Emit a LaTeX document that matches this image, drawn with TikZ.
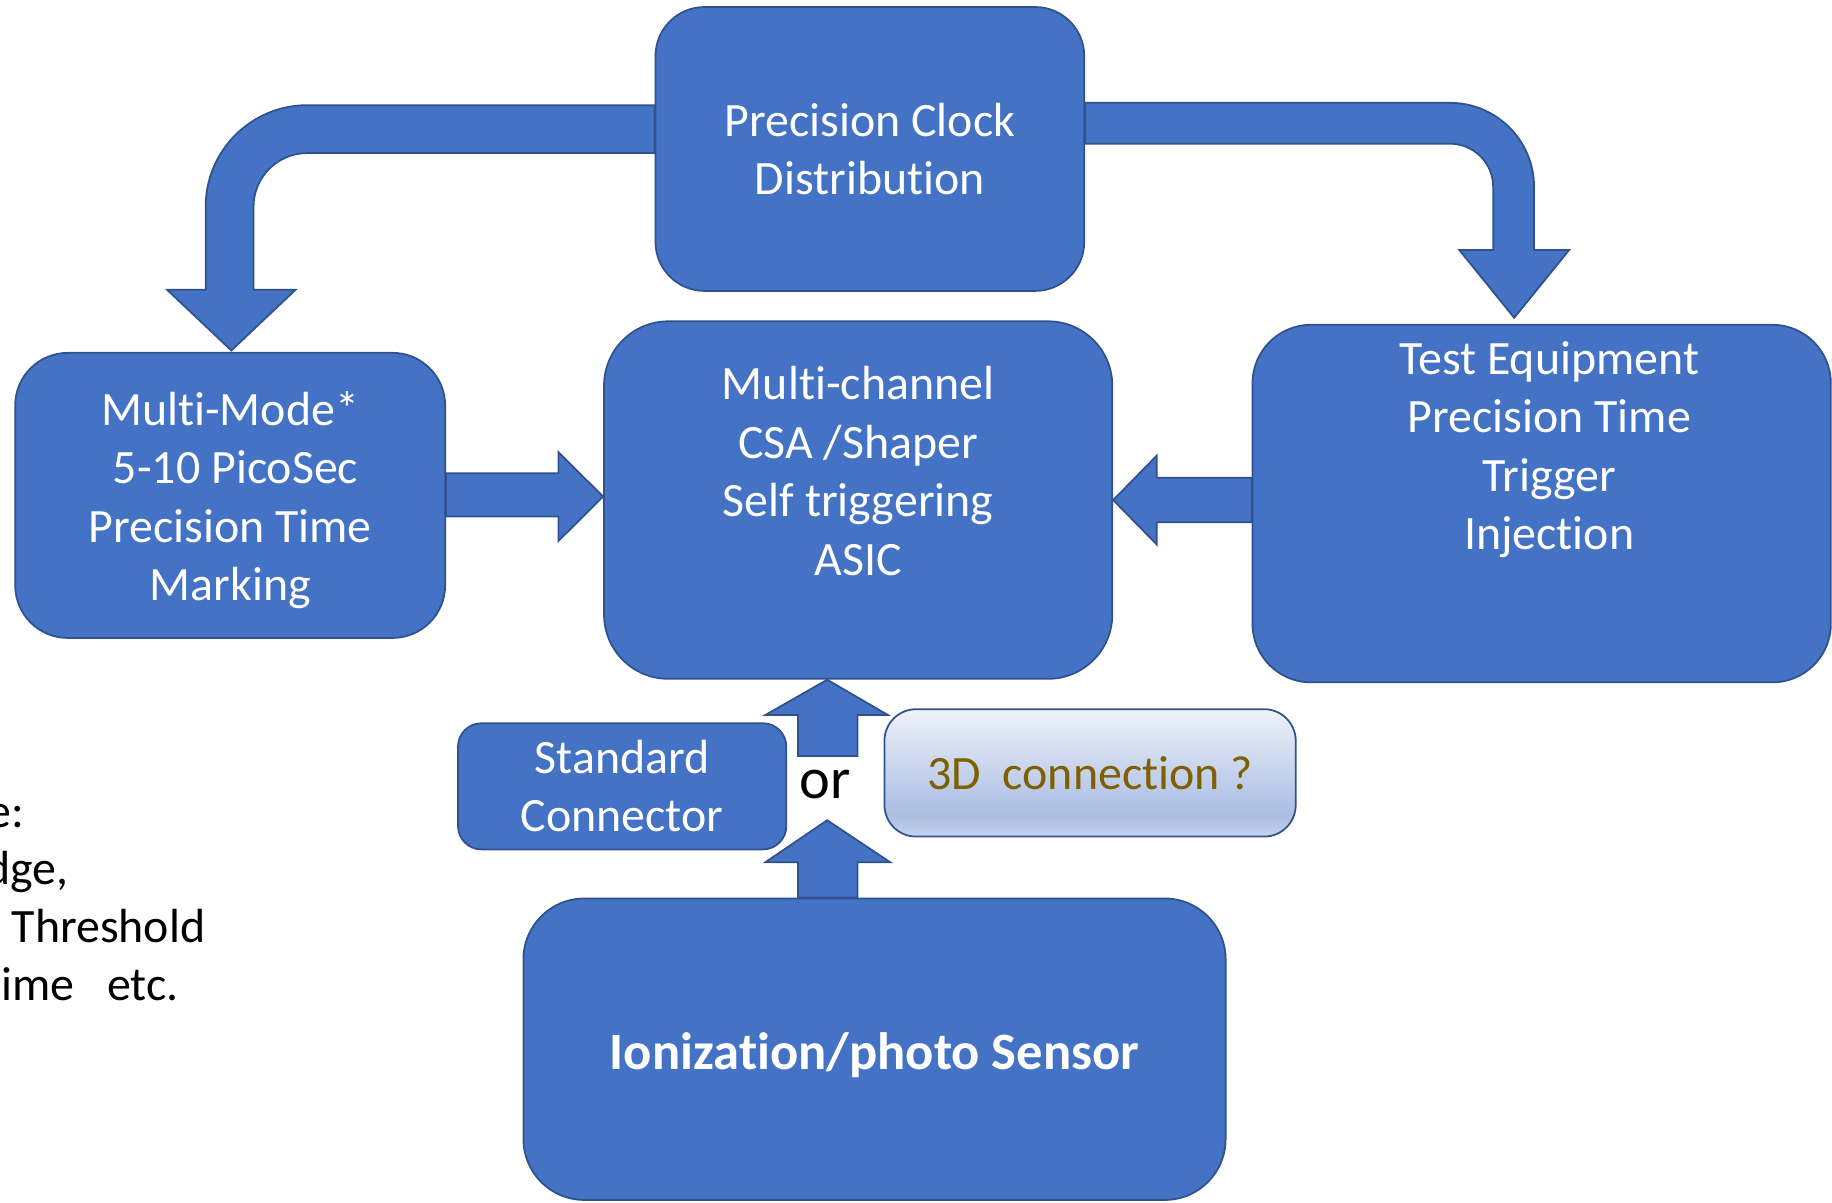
\documentclass[tikz,border=0pt]{standalone}
\usepackage{fontspec}
\setmainfont{Carlito}[Ligatures=NoCommon]
\usetikzlibrary{backgrounds}
\definecolor{boxblue}{HTML}{4472C4}
\definecolor{edgeblue}{HTML}{2F528F}
\definecolor{qtext}{HTML}{7F6000}
\definecolor{gtop}{HTML}{EEF2FA}
\definecolor{gmid}{HTML}{AABDE2}
\definecolor{gbot}{HTML}{C4D2EC}
\pgfdeclareverticalshading{connshade}{100bp}{color(0bp)=(gbot); color(25bp)=(gbot); color(34bp)=(gmid); color(75bp)=(gtop); color(100bp)=(gtop)}
\begin{document}
\begin{tikzpicture}[x=1pt,y=-1pt,
  blk/.style={draw=edgeblue, fill=boxblue, line width=1.5pt, text=white, align=center, inner sep=0pt,
    font=\fontsize{41}{50}\selectfont},
  wlabel/.style={text=white, align=center, inner sep=0pt, font=\fontsize{41}{50}\selectfont},
  blockarrow/.style={draw=edgeblue, fill=boxblue, line width=1.5pt, line join=miter},
  sidetext/.style={anchor=base east, inner sep=0pt, text=black, font=\fontsize{41}{50}\selectfont}]
\useasboundingbox (0,0) rectangle (1568,1029);
\clip (0,0) rectangle (1568,1029);

% boxes
\node[blk, rounded corners=42pt, minimum width=367pt, minimum height=243pt] (clock) at (744.5,127.5)
  {Precision Clock\\Distribution};
\node[blk, rounded corners=45pt, minimum width=368pt, minimum height=244pt] (mm) at (197,424) {};
\node[wlabel] (mmtext) at (197,428) {Multi-Mode*\\\ 5-10 PicoSec\\Precision Time\\Marking};
\node[blk, rounded corners=55pt, minimum width=435pt, minimum height=306pt] (asic) at (734.5,428)
  {Multi-channel\\CSA /Shaper\\Self triggering\\ASIC\\~};
\node[blk, rounded corners=50pt, minimum width=495pt, minimum height=306pt] (test) at (1319.5,431) {};
\node[wlabel] (testtext) at (1326,385) {Test Equipment\\Precision Time\\Trigger\\Injection};
\node[blk, rounded corners=20pt, minimum width=281pt, minimum height=108pt] (std) at (532.5,673)
  {Standard\\Connector};
\node[draw=edgeblue, line width=1.5pt, shading=connshade, rounded corners=27pt, minimum width=352pt,
  minimum height=109pt, inner sep=0pt, text=qtext, font=\fontsize{41}{50}\selectfont] (conn) at (933,661.5)
  {3D\ \ connection ?};
\node[blk, rounded corners=52pt, minimum width=601pt, minimum height=258pt] (sensor) at (748.5,898) {};
\node[wlabel, font=\fontsize{45}{54}\selectfont\bfseries] (sensortext) at (748.5,903)
  {Ionization/photo Sensor};

\node[anchor=base, inner sep=0pt, text=black, font=\fontsize{50}{60}\selectfont] (ortext) at (706.5,683) {or};

% partial note text at the left edge
\node[sidetext] (note1) at (21,708) {e:};
\node[sidetext] (note2) at (59,757) {dge,};
\node[sidetext] (note3) at (176,807) {r Threshold};
\node[sidetext] (note4) at (153,856) {time\ \ \ etc.};

% sensor -> connection level arrow (on top of sensor)
\draw[blockarrow] (683,0 |- sensor.north) -- (683,738) -- (655,738) -- (708,702) -- (762,738)
  -- (734,738) -- (734,0 |- sensor.north) -- cycle;

\begin{scope}[on background layer]
% clock -> multi-mode
\draw[blockarrow] (clock.west |- 0,90) -- (263,90) arc[start angle=-90, end angle=-180, radius=87]
  -- (176,248) -- (143,248) -- (198,300) -- (253,248) -- (217,248) -- (217,177)
  arc[start angle=-180, end angle=-90, radius=46] -- (clock.west |- 0,131) -- cycle;
% clock -> test equipment
\draw[blockarrow] (clock.east |- 0,88) -- (1241,88) arc[start angle=-90, end angle=0, radius=72]
  -- (1313,214) -- (1343,214) -- (1296,272) -- (1249,214) -- (1278,214) -- (1278,160)
  arc[start angle=0, end angle=-90, radius=37] -- (clock.east |- 0,123) -- cycle;
% multi-mode -> asic
\draw[blockarrow] (mm.east |- 0,405) -- (478,405) -- (478,387) -- (asic.west |- 0,425) -- (478,463)
  -- (478,442) -- (mm.east |- 0,442) -- cycle;
% test -> asic
\draw[blockarrow] (test.west |- 0,409) -- (990,409) -- (990,390) -- (asic.east |- 0,428) -- (990,466)
  -- (990,447) -- (test.west |- 0,447) -- cycle;
% connection level -> asic
\draw[blockarrow] (683,647) -- (683,612) -- (655,612) -- (708,0 |- asic.south) -- (760,612)
  -- (734,612) -- (734,647) -- cycle;
\end{scope}
\end{tikzpicture}
\end{document}
